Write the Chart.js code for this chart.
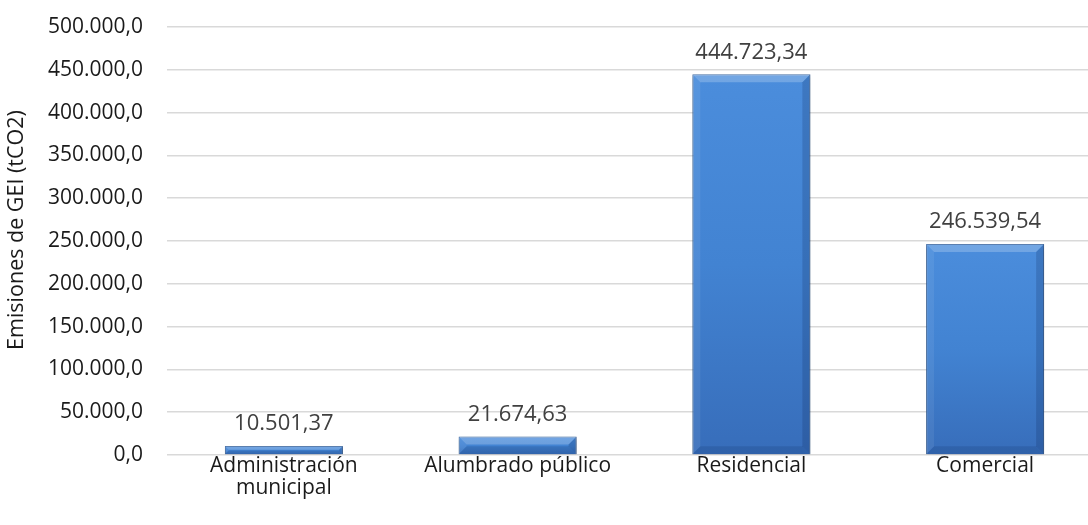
<!DOCTYPE html>
<html lang="es">
<head>
<meta charset="UTF-8">
<title>Emisiones de GEI</title>
<script src="https://cdn.jsdelivr.net/npm/chart.js@4.4.1/dist/chart.umd.min.js"></script>
<style>
  html, body { margin: 0; padding: 0; background: #fff; overflow: hidden; }
  #wrap { width: 1102px; height: 525px; }
</style>
</head>
<body>
<div id="wrap"><canvas id="gei" width="1102" height="525"></canvas></div>
<script>
// datos
const categorias = [["Administración", "municipal"], "Alumbrado público", "Residencial", "Comercial"];
const emisiones = [10501.37, 21674.63, 444723.34, 246539.54];
const yMax = 500000;
const yPaso = 50000;
const tituloY = "Emisiones de GEI (tCO2)";

const fuente = "'Open Sans', 'Noto Sans', sans-serif";

const fmt = (v, dec) => v.toLocaleString("de-DE", { minimumFractionDigits: dec, maximumFractionDigits: dec });

// degradado por barra
function barFill(ctx) {
  const chart = ctx.chart;
  const ys = chart.scales.y;
  if (!ys || !ctx.parsed) return "#3F7ECE";
  const top = ys.getPixelForValue(ctx.parsed.y);
  const base = ys.getPixelForValue(0);
  if (!isFinite(top) || !isFinite(base) || top === base) return "#3F7ECE";
  const g = chart.ctx.createLinearGradient(0, top, 0, base);
  g.addColorStop(0, "#4B8DDC");
  g.addColorStop(0.5, "#4283D2");
  g.addColorStop(1, "#376DBA");
  return g;
}

// bisel + sombra
const bisel = {
  id: "bisel",
  beforeDatasetDraw(chart) {
    const c = chart.ctx;
    c.save();
    c.shadowColor = "rgba(0,0,0,0.3)";
    c.shadowBlur = 4;
    c.shadowOffsetY = 2;
  },
  afterDatasetDraw(chart, args) {
    const c = chart.ctx;
    c.restore();
    args.meta.data.forEach(bar => {
      const p = bar.getProps(["x", "y", "base", "width"], true);
      const l = p.x - p.width / 2, r = p.x + p.width / 2;
      const t = p.y, b = p.base;
      const d = Math.min(8, (b - t) / 2.2);
      c.save();
      c.fillStyle = "rgba(255,255,255,0.22)";
      c.beginPath(); c.moveTo(l, t); c.lineTo(r, t); c.lineTo(r - d, t + d); c.lineTo(l + d, t + d); c.closePath(); c.fill();
      c.fillStyle = "rgba(255,255,255,0.07)";
      c.beginPath(); c.moveTo(l, t); c.lineTo(l + d, t + d); c.lineTo(l + d, b - d); c.lineTo(l, b); c.closePath(); c.fill();
      c.fillStyle = "rgba(0,20,60,0.17)";
      c.beginPath(); c.moveTo(r, t); c.lineTo(r, b); c.lineTo(r - d, b - d); c.lineTo(r - d, t + d); c.closePath(); c.fill();
      c.fillStyle = "rgba(0,20,60,0.13)";
      c.beginPath(); c.moveTo(l, b); c.lineTo(r, b); c.lineTo(r - d, b - d); c.lineTo(l + d, b - d); c.closePath(); c.fill();
      c.restore();
    });
  }
};

// etiquetas de valor y titulo del eje
const etiquetas = {
  id: "etiquetas",
  afterDatasetsDraw(chart) {
    const c = chart.ctx;
    const meta = chart.getDatasetMeta(0);
    c.save();
    c.font = "22px " + fuente;
    c.fillStyle = "#404040";
    c.textAlign = "center";
    c.textBaseline = "middle";
    meta.data.forEach((bar, i) => {
      c.fillText(fmt(emisiones[i], 2), bar.x, bar.y - 22);
    });
    c.restore();
  },
  afterDraw(chart) {
    const c = chart.ctx;
    c.save();
    c.translate(17, 230);
    c.rotate(-Math.PI / 2);
    c.font = "21.5px " + fuente;
    c.fillStyle = "#1a1a1a";
    c.textAlign = "center";
    c.textBaseline = "middle";
    c.fillText(tituloY, 0, 0);
    c.restore();
  }
};

new Chart(document.getElementById("gei"), {
  type: "bar",
  data: {
    labels: categorias,
    datasets: [{
      data: emisiones,
      backgroundColor: barFill,
      borderColor: "#2F5F9E",
      borderWidth: 1,
      barPercentage: 0.505,
      categoryPercentage: 1
    }]
  },
  options: {
    responsive: false,
    animation: false,
    layout: { padding: { top: 27, left: 0, right: 0, bottom: 0 } },
    plugins: { legend: { display: false }, tooltip: { enabled: false } },
    scales: {
      x: {
        grid: { display: false, drawTicks: false },
        border: { display: false },
        ticks: { color: "#1a1a1a", font: { family: fuente, size: 21, lineHeight: 1.05 }, padding: 0, maxRotation: 0 },
        afterFit: s => { s.height = 70; }
      },
      y: {
        min: 0, max: yMax,
        grid: { color: "#D9D9D9", lineWidth: 1.5, drawTicks: false },
        border: { display: false },
        ticks: { stepSize: yPaso, color: "#1a1a1a", font: { family: fuente, size: 21 }, padding: 24,
                 callback: v => fmt(v, 1) },
        afterFit: s => { s.width = 167; s.paddingTop = 0; s.paddingBottom = 0; }
      }
    }
  },
  plugins: [bisel, etiquetas]
});
</script>
</body>
</html>
